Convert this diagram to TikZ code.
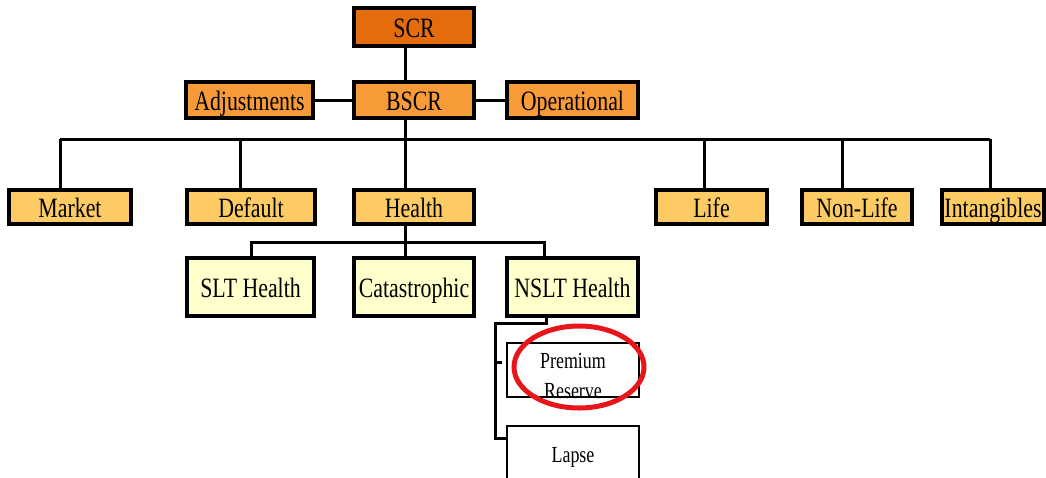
\documentclass[tikz,border=0pt]{standalone}
\usepackage{fontspec}
\setmainfont{Liberation Serif}[FakeStretch=0.78]
\definecolor{cscr}{HTML}{E46C0A}
\definecolor{cbscr}{HTML}{F79A38}
\definecolor{clvl}{HTML}{FDCB63}
\definecolor{csub}{HTML}{FFFFCC}
\definecolor{cring}{HTML}{E8161B}
\begin{document}
\begin{tikzpicture}[x=1pt,y=-1pt,
  box/.style={draw=black,line width=3.2pt,rectangle,inner sep=0pt,text height=24pt,text depth=2.4pt,font=\fontsize{28}{30}\selectfont},
  top/.style={box,fill=cscr},
  mid/.style={box,fill=cbscr},
  lvl/.style={box,fill=clvl},
  sub/.style={box,fill=csub},
  leaf/.style={draw=black,rectangle,inner sep=0pt,fill=white,line width=2.8pt,font=\fontsize{23}{31}\selectfont,align=center},
  wire/.style={draw=black,line width=3pt},
  ring/.style={draw=cring,line width=5pt}]
\useasboundingbox (0,0) rectangle (1046,477);
% level 0/1
\node[top,minimum width=120pt,minimum height=38pt] (scr) at (414,27) {SCR};
\node[mid,minimum width=120pt,minimum height=36pt] (bscr) at (414,100) {BSCR};
\node[mid,minimum width=127pt,minimum height=36pt] (adj) at (249.5,100) {Adjustments};
\node[mid,minimum width=131pt,minimum height=36pt] (ops) at (572.5,100) {Operational};
% level 2
\node[lvl,minimum width=122pt,minimum height=34pt] (market) at (70,207) {Market};
\node[lvl,minimum width=128pt,minimum height=34pt] (default) at (251,207) {Default};
\node[lvl,minimum width=120pt,minimum height=34pt] (health) at (414,207) {Health};
\node[lvl,minimum width=111pt,minimum height=34pt] (life) at (711.5,207) {Life};
\node[lvl,minimum width=110pt,minimum height=34pt] (nonlife) at (857,207) {Non-Life};
\node[lvl,minimum width=102pt,minimum height=34pt] (intang) at (993,207) {Intangibles};
% level 3
\node[sub,minimum width=127pt,minimum height=58pt] (slt) at (250.5,287) {SLT Health};
\node[sub,minimum width=120pt,minimum height=58pt] (cat) at (414,287) {Catastrophic};
\node[sub,minimum width=131pt,minimum height=58pt] (nslt) at (572.5,287) {NSLT Health};
% level 4
\node[leaf,minimum width=132pt,minimum height=54pt] (prem) at (573,370) {};
\node[font=\fontsize{23}{30}\selectfont,align=center,inner sep=0pt] (premt) at (573,376) {Premium\\Reserve};
\node[leaf,minimum width=132pt,minimum height=62pt,text height=16pt,text depth=5pt] (lapse) at (573,457) {Lapse};
% connectors
\draw[wire] (scr.south -| 405,0) -- (bscr.north -| 405,0);
\draw[wire] (adj.east) -- (bscr.west);
\draw[wire] (bscr.east) -- (ops.east -| ops.west);
\coordinate (busL) at (60,139);
\coordinate (busR) at (990,139);
\draw[wire] (bscr.south -| 405,0) -- (405,139);
\draw[wire] (busL) -- (busR);
\draw[wire] (busL) -- (market.north -| busL);
\draw[wire] (240,139) -- (default.north -| 240,0);
\draw[wire] (405,139) -- (health.north -| 405,0);
\draw[wire] (704,139) -- (life.north -| 704,0);
\draw[wire] (842,139) -- (nonlife.north -| 842,0);
\draw[wire] (busR) -- (intang.north -| busR);
\coordinate (hb) at (405,242);
\draw[wire] (health.south -| hb) -- (hb);
\draw[wire] (slt.north -| 251,0) -- (251,242) -- (544,242) -- (nslt.north -| 544,0);
\draw[wire] (hb) -- (cat.north -| hb);
\draw[wire] (nslt.south -| 546,0) -- (546,323) -- (495,323) -- (495,438) -- (lapse.west |- 0,438);
\draw[wire] (495,362) -- (502,362);
% highlight
\draw[ring] (579,367) ellipse [x radius=65, y radius=41];
\end{tikzpicture}
\end{document}
